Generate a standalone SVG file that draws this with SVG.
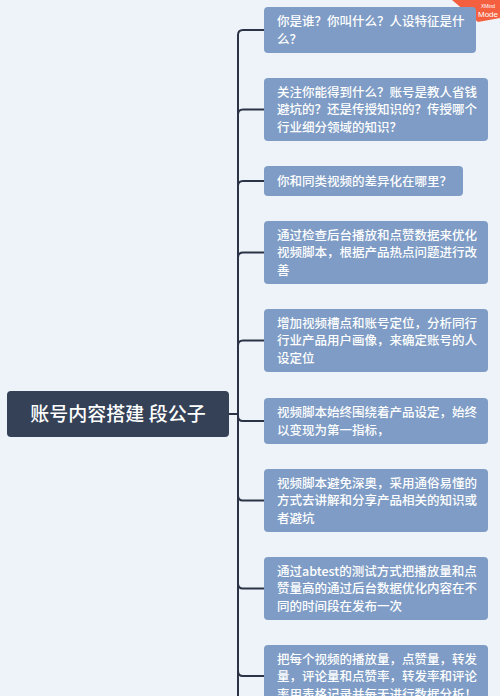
<svg xmlns="http://www.w3.org/2000/svg" width="500" height="696" viewBox="0 0 500 696">
<style>
.bg{fill:#eef3f9}
.topic{fill:#7e9cc5}
.t{font-family:"Noto Sans CJK SC","Noto Sans",sans-serif;font-size:12.5px;font-weight:500;fill:#ffffff}
.c{fill:none;stroke:#2b3447;stroke-width:2}
.root{fill:#344157}
.rt{font-family:"Noto Sans CJK SC","Noto Sans",sans-serif;font-size:19px;font-weight:500;fill:#ffffff;text-anchor:middle}
</style>
<rect class="bg" x="0" y="0" width="500" height="696"/>
<g id="watermark">
<polygon points="452,0 500,0 500,18 478,22" fill="#f4603f"/>
<text x="488" y="8" font-family="Liberation Sans,sans-serif" font-size="5" fill="#ffffff" text-anchor="middle">XMind</text>
<text x="488" y="17" font-family="Liberation Sans,sans-serif" font-size="8" fill="#ffffff" text-anchor="middle">Mode</text>
</g>
<g id="connectors">
<path class="c" d="M229 414 H238 V35 Q238 30 243 30 H264"/>
<path class="c" d="M229 414 H238 V114.5 Q238 109.5 243 109.5 H264"/>
<path class="c" d="M229 414 H238 V186 Q238 181 243 181 H264"/>
<path class="c" d="M229 414 H238 V257.5 Q238 252.5 243 252.5 H264"/>
<path class="c" d="M229 414 H238 V345.5 Q238 340.5 243 340.5 H264"/>
<path class="c" d="M229 414 H238 V416 Q238 421 243 421 H264"/>
<path class="c" d="M229 414 H238 V495.5 Q238 500.5 243 500.5 H264"/>
<path class="c" d="M229 414 H238 V583.5 Q238 588.5 243 588.5 H264"/>
<path class="c" d="M229 414 H238 V671 Q238 676 243 676 H264"/>
<path class="c" d="M238 414 V700"/>
</g>
<g id="root">
<rect class="root" x="7" y="391" width="222" height="46" rx="4"/>
<text class="rt" x="118" y="421">账号内容搭建 段公子</text>
</g>
<g id="n1">
<rect class="topic" x="264" y="7" width="212" height="46" rx="4"/>
<text class="t" x="277" y="26">你是谁？你叫什么？人设特征是什<tspan x="277" dy="17.5">么？</tspan></text>
</g>
<g id="n2">
<rect class="topic" x="264" y="78" width="224" height="63" rx="4"/>
<text class="t" x="277" y="96.7">关注你能得到什么？账号是教人省钱<tspan x="277" dy="17.5">避坑的？还是传授知识的？传授哪个</tspan><tspan x="277" dy="17.5">行业细分领域的知识？</tspan></text>
</g>
<g id="n3">
<rect class="topic" x="264" y="166" width="199" height="30" rx="4"/>
<text class="t" x="277" y="185.7">你和同类视频的差异化在哪里？</text>
</g>
<g id="n4">
<rect class="topic" x="264" y="221" width="224" height="63" rx="4"/>
<text class="t" x="277" y="239.7">通过检查后台播放和点赞数据来优化<tspan x="277" dy="17.5">视频脚本，根据产品热点问题进行改</tspan><tspan x="277" dy="17.5">善</tspan></text>
</g>
<g id="n5">
<rect class="topic" x="264" y="309" width="224" height="63" rx="4"/>
<text class="t" x="277" y="327.7">增加视频槽点和账号定位，分析同行<tspan x="277" dy="17.5">行业产品用户画像，来确定账号的人</tspan><tspan x="277" dy="17.5">设定位</tspan></text>
</g>
<g id="n6">
<rect class="topic" x="264" y="398" width="224" height="46" rx="4"/>
<text class="t" x="277" y="417">视频脚本始终围绕着产品设定，始终<tspan x="277" dy="17.5">以变现为第一指标，</tspan></text>
</g>
<g id="n7">
<rect class="topic" x="264" y="469" width="224" height="63" rx="4"/>
<text class="t" x="277" y="487.7">视频脚本避免深奥，采用通俗易懂的<tspan x="277" dy="17.5">方式去讲解和分享产品相关的知识或</tspan><tspan x="277" dy="17.5">者避坑</tspan></text>
</g>
<g id="n8">
<rect class="topic" x="264" y="557" width="224" height="63" rx="4"/>
<text class="t" x="277" y="575.7">通过abtest的测试方式把播放量和点<tspan x="277" dy="17.5">赞量高的通过后台数据优化内容在不</tspan><tspan x="277" dy="17.5">同的时间段在发布一次</tspan></text>
</g>
<g id="n9">
<rect class="topic" x="264" y="645" width="224" height="63" rx="4"/>
<text class="t" x="277" y="663.7">把每个视频的播放量，点赞量，转发<tspan x="277" dy="17.5">量，评论量和点赞率，转发率和评论</tspan><tspan x="277" dy="17.5">率用表格记录并每天进行数据分析！</tspan></text>
</g>
</svg>
